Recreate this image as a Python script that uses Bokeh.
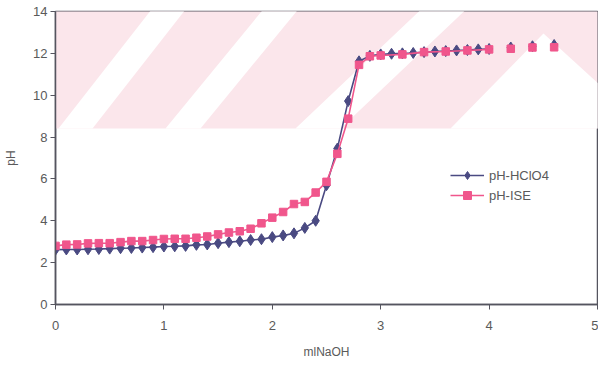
from bokeh.plotting import figure
from bokeh.models import PolyAnnotation, Legend, LegendItem, FixedTicker
from bokeh.embed import file_html
from bokeh.resources import INLINE

# ---- data ----
ml_naoh_hclo4 = [0.0, 0.1, 0.2, 0.3, 0.4, 0.5, 0.6, 0.7, 0.8, 0.9,
                 1.0, 1.1, 1.2, 1.3, 1.4, 1.5, 1.6, 1.7, 1.8, 1.9,
                 2.0, 2.1, 2.2, 2.3, 2.4, 2.5, 2.6, 2.7, 2.8, 2.9,
                 3.0, 3.1, 3.2, 3.3, 3.4, 3.5, 3.6, 3.7, 3.8, 3.9, 4.0]
ph_hclo4 = [2.62, 2.63, 2.63, 2.64, 2.65, 2.67, 2.69, 2.70, 2.72, 2.74,
            2.77, 2.78, 2.80, 2.85, 2.87, 2.93, 2.98, 3.02, 3.08, 3.12,
            3.22, 3.30, 3.40, 3.66, 4.00, 5.70, 7.45, 9.72, 11.62, 11.88,
            11.95, 11.98, 12.00, 12.02, 12.06, 12.09, 12.11, 12.14, 12.16, 12.19, 12.21]
ml_naoh_hclo4_tail = [4.2, 4.4, 4.6]
ph_hclo4_tail = [12.28, 12.34, 12.40]

ml_naoh_ise = [0.0, 0.1, 0.2, 0.3, 0.4, 0.5, 0.6, 0.7, 0.8, 0.9,
               1.0, 1.1, 1.2, 1.3, 1.4, 1.5, 1.6, 1.7, 1.8, 1.9,
               2.0, 2.1, 2.2, 2.3, 2.4, 2.5, 2.6, 2.7, 2.8, 2.9,
               3.0, 3.2, 3.4, 3.6, 3.8, 4.0]
ph_ise = [2.80, 2.86, 2.87, 2.92, 2.93, 2.93, 2.98, 3.03, 3.03, 3.08,
          3.13, 3.14, 3.14, 3.19, 3.25, 3.35, 3.44, 3.50, 3.62, 3.88,
          4.15, 4.42, 4.80, 4.90, 5.35, 5.86, 7.20, 8.88, 11.45, 11.86,
          11.90, 11.95, 12.06, 12.09, 12.14, 12.19]
ml_naoh_ise_tail = [4.2, 4.4, 4.6]
ph_ise_tail = [12.22, 12.28, 12.29]

x_ticks = [0, 1, 2, 3, 4, 5]
y_ticks = [0, 2, 4, 6, 8, 10, 12, 14]

BLUE = "#4a4a82"
PINK = "#f0568c"
AXIS = "#55555f"
TEXT = "#5a5a5a"
FONT = "Liberation Sans"

p = figure(width=598, height=368, x_range=(0, 5), y_range=(0, 14),
           output_backend="svg", toolbar_location=None,
           min_border_left=55, min_border_right=1, min_border_top=11,
           min_border_bottom=64)
p.xgrid.visible = False
p.ygrid.visible = False
p.outline_line_color = AXIS
p.outline_line_width = 1.5
p.background_fill_color = "white"
p.border_fill_color = "white"

# ---- scanned watermark background (decoration, frame pixels, y up) ----
WM_PINK = "#fbe6eb"
band = PolyAnnotation(xs=[-10, 560, 560, -10], ys=[176, 176, 300, 300],
                      xs_units="screen", ys_units="screen",
                      fill_color=WM_PINK, fill_alpha=1, line_alpha=0, level="underlay")
p.add_layout(band)
stripes = [
    ([3, 37, 137, 103], [176, 176, 304, 304]),
    ([110, 145, 250, 215], [176, 176, 304, 304]),
    ([240, 285, 420, 375], [176, 176, 304, 304]),
    ([395, 488, 545, 545], [176, 271, 219, 176]),
]
for sx, sy in stripes:
    p.add_layout(PolyAnnotation(xs=sx, ys=sy, xs_units="screen", ys_units="screen",
                                fill_color="white", fill_alpha=1, line_alpha=0,
                                level="underlay"))

# ---- series ----
l1 = p.line(ml_naoh_hclo4, ph_hclo4, line_color=BLUE, line_width=1.6)
s1 = p.scatter(ml_naoh_hclo4 + ml_naoh_hclo4_tail, ph_hclo4 + ph_hclo4_tail,
               marker="diamond", size=11, fill_color=BLUE, line_color=BLUE)
l2 = p.line(ml_naoh_ise, ph_ise, line_color=PINK, line_width=1.6)
s2 = p.scatter(ml_naoh_ise + ml_naoh_ise_tail, ph_ise + ph_ise_tail,
               marker="square", size=7.5, fill_color=PINK, line_color=PINK)

# ---- axes ----
for ax in (p.xaxis[0], p.yaxis[0]):
    ax.axis_line_color = AXIS
    ax.axis_line_width = 1.5
    ax.major_tick_line_color = AXIS
    ax.major_tick_out = 5
    ax.major_tick_in = 0
    ax.minor_tick_line_color = None
    ax.major_label_text_font = FONT
    ax.major_label_text_font_size = "13px"
    ax.major_label_text_color = TEXT
    ax.axis_label_text_font = FONT
    ax.axis_label_text_font_size = "12px"
    ax.axis_label_text_font_style = "normal"
    ax.axis_label_text_color = TEXT

p.xaxis.ticker = FixedTicker(ticks=x_ticks)
p.yaxis.ticker = FixedTicker(ticks=y_ticks)
p.xaxis.axis_label = "mlNaOH"
p.yaxis.axis_label = "pH"
p.xaxis.major_label_standoff = 11
p.xaxis.axis_label_standoff = 12
p.yaxis.major_label_standoff = 3
p.yaxis.axis_label_standoff = 12

legend = Legend(items=[LegendItem(label="pH-HClO4", renderers=[l1, s1]),
                       LegendItem(label="pH-ISE", renderers=[l2, s2])],
                location=(395, 99), orientation="vertical",
                background_fill_alpha=0, border_line_alpha=0,
                padding=0, margin=0, spacing=0,
                glyph_width=34, glyph_height=20, label_height=20,
                label_standoff=5,
                label_text_font=FONT, label_text_font_size="13px",
                label_text_color=TEXT)
p.add_layout(legend)

open("out.html", "w").write(file_html(p, INLINE))
